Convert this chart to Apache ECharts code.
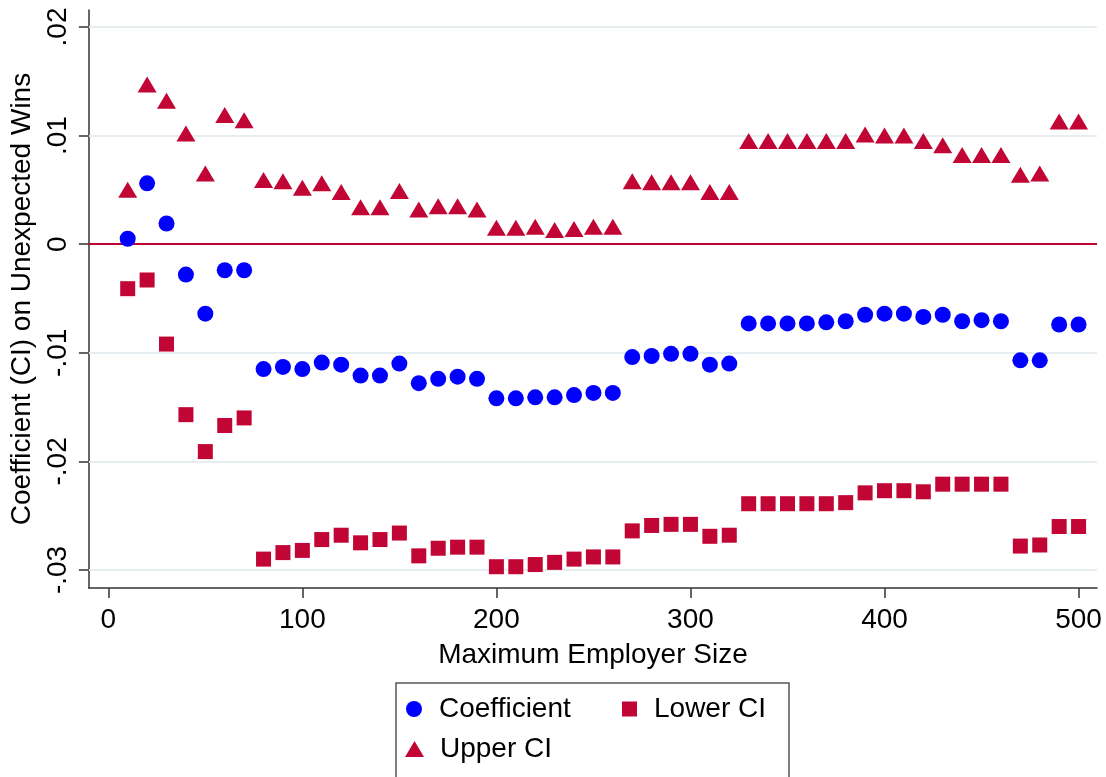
<!DOCTYPE html>
<html>
<head>
<meta charset="utf-8">
<script src="https://cdn.jsdelivr.net/npm/echarts@6/dist/echarts.min.js"></script>
<style>
html,body{margin:0;padding:0;background:#fff;}
#chart{width:1106px;height:777px;}
</style>
</head>
<body>
<div id="chart"></div>
<script>
const employerSize = [10,20,30,40,50,60,70,80,90,100,110,120,130,140,150,160,170,180,190,200,210,220,230,240,250,260,270,280,290,300,310,320,330,340,350,360,370,380,390,400,410,420,430,440,450,460,470,480,490,500];

const coefficient = [0.0005,0.0056,0.0019,-0.0028,-0.0064,-0.0024,-0.0024,-0.0115,-0.0113,-0.0115,-0.0109,-0.0111,-0.0121,-0.0121,-0.0110,-0.0128,-0.0124,-0.0122,-0.0124,-0.0142,-0.0142,-0.0141,-0.0141,-0.0139,-0.0137,-0.0137,-0.0104,-0.0103,-0.0101,-0.0101,-0.0111,-0.0110,-0.0073,-0.0073,-0.0073,-0.0073,-0.0072,-0.0071,-0.0065,-0.0064,-0.0064,-0.0067,-0.0065,-0.0071,-0.0070,-0.0071,-0.0107,-0.0107,-0.0074,-0.0074];

const lowerCI = [-0.0041,-0.0033,-0.0092,-0.0157,-0.0191,-0.0167,-0.0160,-0.0290,-0.0284,-0.0282,-0.0272,-0.0268,-0.0275,-0.0272,-0.0266,-0.0287,-0.0280,-0.0279,-0.0279,-0.0297,-0.0297,-0.0295,-0.0293,-0.0290,-0.0288,-0.0288,-0.0264,-0.0259,-0.0258,-0.0258,-0.0269,-0.0268,-0.0239,-0.0239,-0.0239,-0.0239,-0.0239,-0.0238,-0.0229,-0.0227,-0.0227,-0.0228,-0.0221,-0.0221,-0.0221,-0.0221,-0.0278,-0.0277,-0.0260,-0.0260];

const upperCI = [0.0050,0.0147,0.0132,0.0102,0.0065,0.0119,0.0114,0.0059,0.0058,0.0052,0.0056,0.0048,0.0034,0.0034,0.0049,0.0032,0.0035,0.0035,0.0032,0.0015,0.0015,0.0016,0.0013,0.0014,0.0016,0.0016,0.0058,0.0057,0.0057,0.0057,0.0048,0.0048,0.0095,0.0095,0.0095,0.0095,0.0095,0.0095,0.0101,0.0100,0.0100,0.0095,0.0091,0.0082,0.0082,0.0082,0.0064,0.0065,0.0113,0.0113];

const xTicks = [0,100,200,300,400,500];
const yTicks = [-0.03,-0.02,-0.01,0,0.01,0.02];
const yTickLabels = ['-.03','-.02','-.01','0','.01','.02'];

const FONT = 'Liberation Sans, Arial, Helvetica, sans-serif';
const FS = 28;
const RED = '#c10534';
const BLUE = '#0000ff';
const GRID = '#e6eef2';
const AXIS = '#333333';

function pairs(ys){ return employerSize.map((x,i)=>[x, ys[i]]); }

const chart = echarts.init(document.getElementById('chart'), null, {renderer:'canvas'});

const legendBase = {
  orient:'horizontal',
  textStyle:{fontFamily:FONT,fontSize:FS,color:'#000',lineHeight:32,padding:[0,0,0,12]},
  itemGap:0,
  selectedMode:false,
  padding:0
};

chart.setOption({
  animation:false,
  backgroundColor:'#fff',
  grid:{left:88,right:9,top:10,bottom:189,containLabel:false},
  xAxis:{
    type:'value',
    min:-10,max:509.5,
    name:'Maximum Employer Size',
    nameLocation:'middle',
    nameGap:53,
    nameTextStyle:{fontFamily:FONT,fontSize:FS,color:'#000'},
    axisLine:{show:true,onZero:false,lineStyle:{color:AXIS,width:1.5}},
    axisTick:{show:true,length:10,lineStyle:{color:AXIS,width:1.5},customValues:xTicks},
    axisLabel:{fontFamily:FONT,fontSize:FS,color:'#000',margin:18,customValues:xTicks,formatter:v=>String(v)},
    splitLine:{show:false}
  },
  yAxis:{
    type:'value',
    min:-0.03166,max:0.02156,
    name:'Coefficient (CI) on Unexpected Wins',
    nameLocation:'middle',
    nameRotate:90,
    nameGap:51,
    nameTextStyle:{fontFamily:FONT,fontSize:FS,color:'#000'},
    axisLine:{show:true,onZero:false,lineStyle:{color:AXIS,width:1.5}},
    axisTick:{show:true,length:10,lineStyle:{color:AXIS,width:1.5},customValues:yTicks},
    axisLabel:{fontFamily:FONT,fontSize:FS,color:'#000',rotate:90,margin:17,customValues:yTicks,
      formatter:v=>{const i=yTicks.findIndex(t=>Math.abs(t-v)<1e-9);return i>=0?yTickLabels[i]:'';}},
    splitLine:{show:false}
  },
  legend:[
    Object.assign({},legendBase,{left:406,top:693,data:[{name:'Coefficient',icon:'circle'}],itemWidth:16,itemHeight:16}),
    Object.assign({},legendBase,{left:622,top:693,data:[{name:'Lower CI',icon:'rect'}],itemWidth:15,itemHeight:15}),
    Object.assign({},legendBase,{left:405,top:733,data:[{name:'Upper CI',icon:'triangle'}],itemWidth:19,itemHeight:16,textStyle:Object.assign({},legendBase.textStyle,{padding:[0,0,0,11]})})
  ],
  graphic:[{
    type:'rect',
    shape:{x:396,y:683,width:393,height:110},
    style:{fill:'none',stroke:'#555',lineWidth:1.5},
    silent:true
  }],
  series:[
    {
      name:'grid',
      type:'line',
      data:[],
      silent:true,
      z:1,
      markLine:{
        silent:true,symbol:'none',animation:false,
        label:{show:false},
        lineStyle:{color:GRID,width:2,type:'solid'},
        data:yTicks.filter(t=>t!==0).map(t=>({yAxis:t}))
      }
    },
    {
      name:'zero',
      type:'line',
      data:[],
      silent:true,
      z:2,
      markLine:{
        silent:true,symbol:'none',animation:false,
        label:{show:false},
        lineStyle:{color:RED,width:2,type:'solid'},
        data:[{yAxis:0}]
      }
    },
    {name:'Coefficient',type:'scatter',symbol:'circle',symbolSize:16,z:5,
      itemStyle:{color:BLUE,opacity:1},data:pairs(coefficient)},
    {name:'Lower CI',type:'scatter',symbol:'rect',symbolSize:15,z:5,
      itemStyle:{color:RED,opacity:1},data:pairs(lowerCI)},
    {name:'Upper CI',type:'scatter',symbol:'triangle',symbolSize:[19,16],z:5,
      itemStyle:{color:RED,opacity:1},data:pairs(upperCI)}
  ]
});
</script>
</body>
</html>
